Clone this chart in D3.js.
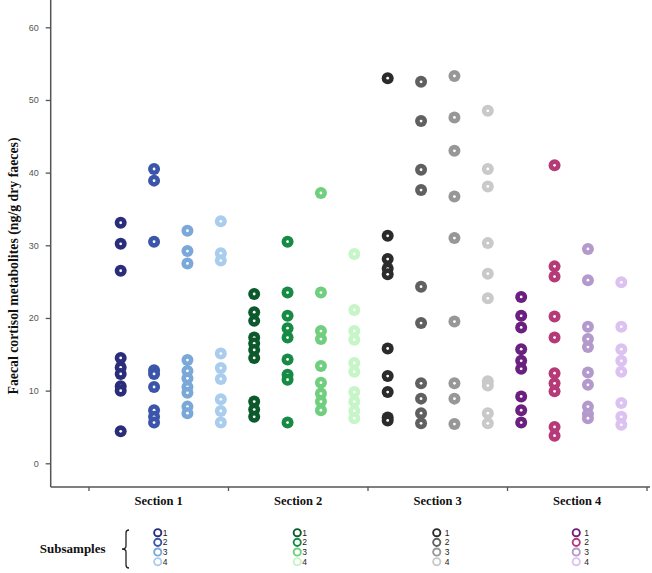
<!DOCTYPE html>
<html>
<head>
<meta charset="utf-8">
<script src="https://cdn.jsdelivr.net/npm/d3@7"></script>
<style>
  body { margin: 0; background: #fff; }
  .serif { font-family: "Liberation Serif", "Times New Roman", serif; font-weight: bold; }
  .sans { font-family: "Liberation Sans", Arial, sans-serif; }
</style>
</head>
<body>
<div id="container"></div>
<script>
(function() {

// Data (ng/g dry faeces), one array per subsample
let sections = ["Section 1", "Section 2", "Section 3", "Section 4"];
let subsamples = ["1", "2", "3", "4"];

let section1 = [
  [33.1, 30.2, 26.5, 14.5, 13.2, 12.3, 10.6, 10.0, 4.4],
  [40.5, 38.9, 30.5, 12.8, 12.3, 10.5, 7.3, 6.4, 5.6],
  [32.0, 29.2, 27.5, 14.2, 12.7, 11.7, 10.5, 9.7, 7.8, 6.9],
  [33.3, 28.9, 27.9, 15.1, 13.1, 11.6, 8.8, 7.2, 5.6]
];
let section2 = [
  [23.3, 20.8, 19.6, 17.3, 16.5, 15.6, 14.5, 8.5, 7.4, 6.4],
  [30.5, 23.5, 20.3, 18.6, 17.3, 14.3, 12.2, 11.5, 5.6],
  [37.2, 23.5, 18.2, 17.1, 13.4, 11.1, 9.6, 8.5, 7.3],
  [28.8, 21.1, 18.2, 17.0, 13.8, 12.6, 9.8, 8.5, 7.2, 6.2]
];
let section3 = [
  [53.0, 31.3, 28.1, 26.8, 26.0, 15.8, 12.0, 9.8, 6.3, 5.9],
  [52.5, 47.1, 40.4, 37.6, 24.3, 19.3, 11.0, 8.9, 6.9, 5.5],
  [53.3, 47.6, 43.0, 36.7, 31.0, 19.5, 11.0, 8.9, 5.4],
  [48.5, 40.5, 38.1, 30.3, 26.1, 22.7, 11.3, 10.7, 6.9, 5.5]
];
let section4 = [
  [22.9, 20.3, 18.7, 15.7, 14.1, 13.0, 9.2, 7.3, 5.6],
  [41.0, 27.1, 25.7, 20.2, 17.3, 12.4, 11.0, 9.9, 5.0, 3.8],
  [29.5, 25.2, 18.8, 17.1, 16.0, 12.5, 10.8, 7.8, 6.8, 6.2],
  [24.9, 18.8, 15.7, 14.1, 12.6, 8.3, 6.4, 5.3]
];
let yTicks = [0, 10, 20, 30, 40, 50, 60];

let allSections = [section1, section2, section3, section4];

// colours per section, per subsample
let palette = [
  ["#2a2d7a", "#3b55ab", "#7aa8d8", "#aacdee"],
  ["#0c5a2c", "#178a46", "#6fcf7e", "#c6f5c8"],
  ["#2b2b2b", "#606060", "#979797", "#c9c9c9"],
  ["#6b1f7e", "#b63a78", "#b49acc", "#dcc2f0"]
];

let width = 652, height = 573;
let svg = d3.select("#container")
  .append("svg")
    .attr("width", width)
    .attr("height", height);

let axisLeftX = 50.7;
let axisBottomY = 487;

// Scales
let y = d3.scaleLinear()
  .domain([0, 60])
  .range([463.3, 27.3]);
let xSec = d3.scaleBand()
  .domain(sections)
  .range([89, 647]);
let xGrp = d3.scaleBand()
  .domain(sections)
  .range([104, 638]);
let xSub = d3.scalePoint()
  .domain(subsamples)
  .range([0, xGrp.bandwidth()])
  .padding(0.5);

// Y axis
let yAxis = svg.append("g")
  .attr("transform", "translate(" + axisLeftX + ",0)")
  .call(d3.axisLeft(y).tickValues(yTicks).tickSize(5).tickSizeOuter(0).tickPadding(7));
yAxis.select(".domain").remove();
yAxis.selectAll("line").attr("stroke", "#555").attr("stroke-width", 1.3);
yAxis.selectAll("text")
  .attr("class", "sans")
  .attr("font-size", 9)
  .attr("fill", "#555");
svg.append("line")
  .attr("x1", axisLeftX).attr("x2", axisLeftX)
  .attr("y1", 0).attr("y2", axisBottomY)
  .attr("stroke", "#555").attr("stroke-width", 1.5);

// X axis
svg.append("line")
  .attr("x1", axisLeftX).attr("x2", 650)
  .attr("y1", axisBottomY).attr("y2", axisBottomY)
  .attr("stroke", "#555").attr("stroke-width", 1.5);
let bounds = sections.map((s) => xSec(s)).concat([xSec.range()[1]]);
svg.append("g")
  .selectAll("line")
  .data(bounds)
  .enter()
  .append("line")
    .attr("x1", (d) => d).attr("x2", (d) => d)
    .attr("y1", axisBottomY).attr("y2", axisBottomY + 4)
    .attr("stroke", "#555").attr("stroke-width", 1.3);
svg.append("g")
  .selectAll("text")
  .data(sections)
  .enter()
  .append("text")
    .attr("class", "serif")
    .attr("x", (d) => xSec(d) + xSec.bandwidth() / 2)
    .attr("y", 505)
    .attr("text-anchor", "middle")
    .attr("font-size", 12.5)
    .attr("fill", "#111")
    .text((d) => d);

// Y title
svg.append("text")
  .attr("class", "serif")
  .attr("transform", "translate(18,266) rotate(-90)")
  .attr("text-anchor", "middle")
  .attr("font-size", 13.8)
  .attr("fill", "#111")
  .text("Faecal cortisol metabolites (ng/g dry faeces)");

// Dots
allSections.forEach((sec, si) => {
  sec.forEach((vals, ki) => {
    let cx = xGrp(sections[si]) + xSub(subsamples[ki]);
    let g = svg.append("g");
    vals.forEach((v) => {
      g.append("circle")
        .attr("cx", cx).attr("cy", y(v)).attr("r", 6)
        .attr("fill", palette[si][ki]);
      g.append("circle")
        .attr("cx", cx).attr("cy", y(v)).attr("r", 1.4)
        .attr("fill", "#fff");
    });
  });
});

// Legend
svg.append("text")
  .attr("class", "serif")
  .attr("x", 72.7).attr("y", 553)
  .attr("text-anchor", "middle")
  .attr("font-size", 13)
  .attr("fill", "#111")
  .text("Subsamples");
svg.append("path")
  .attr("d", "M129,530 Q126,530 126,533 L126,546 Q126,549 122,549 Q126,549 126,552 L126,565 Q126,568 129,568")
  .attr("fill", "none")
  .attr("stroke", "#222")
  .attr("stroke-width", 1.3);

let legendY = d3.scalePoint()
  .domain(subsamples)
  .range([532.7, 561.7]);
sections.forEach((s, si) => {
  let lx = xSec(s) + xSec.bandwidth() / 2 - 1;
  let lg = svg.append("g");
  lg.selectAll("circle")
    .data(subsamples)
    .enter()
    .append("circle")
      .attr("cx", lx).attr("cy", (d) => legendY(d)).attr("r", 3.6)
      .attr("fill", "none")
      .attr("stroke", (d, i) => palette[si][i])
      .attr("stroke-width", 1.9);
  lg.selectAll("text")
    .data(subsamples)
    .enter()
    .append("text")
      .attr("class", "sans")
      .attr("x", lx + (si < 2 ? 5 : 8)).attr("y", (d) => legendY(d) + 3)
      .attr("font-size", 8.5)
      .attr("fill", "#222")
      .text((d) => d);
});

})();
</script>
</body>
</html>
